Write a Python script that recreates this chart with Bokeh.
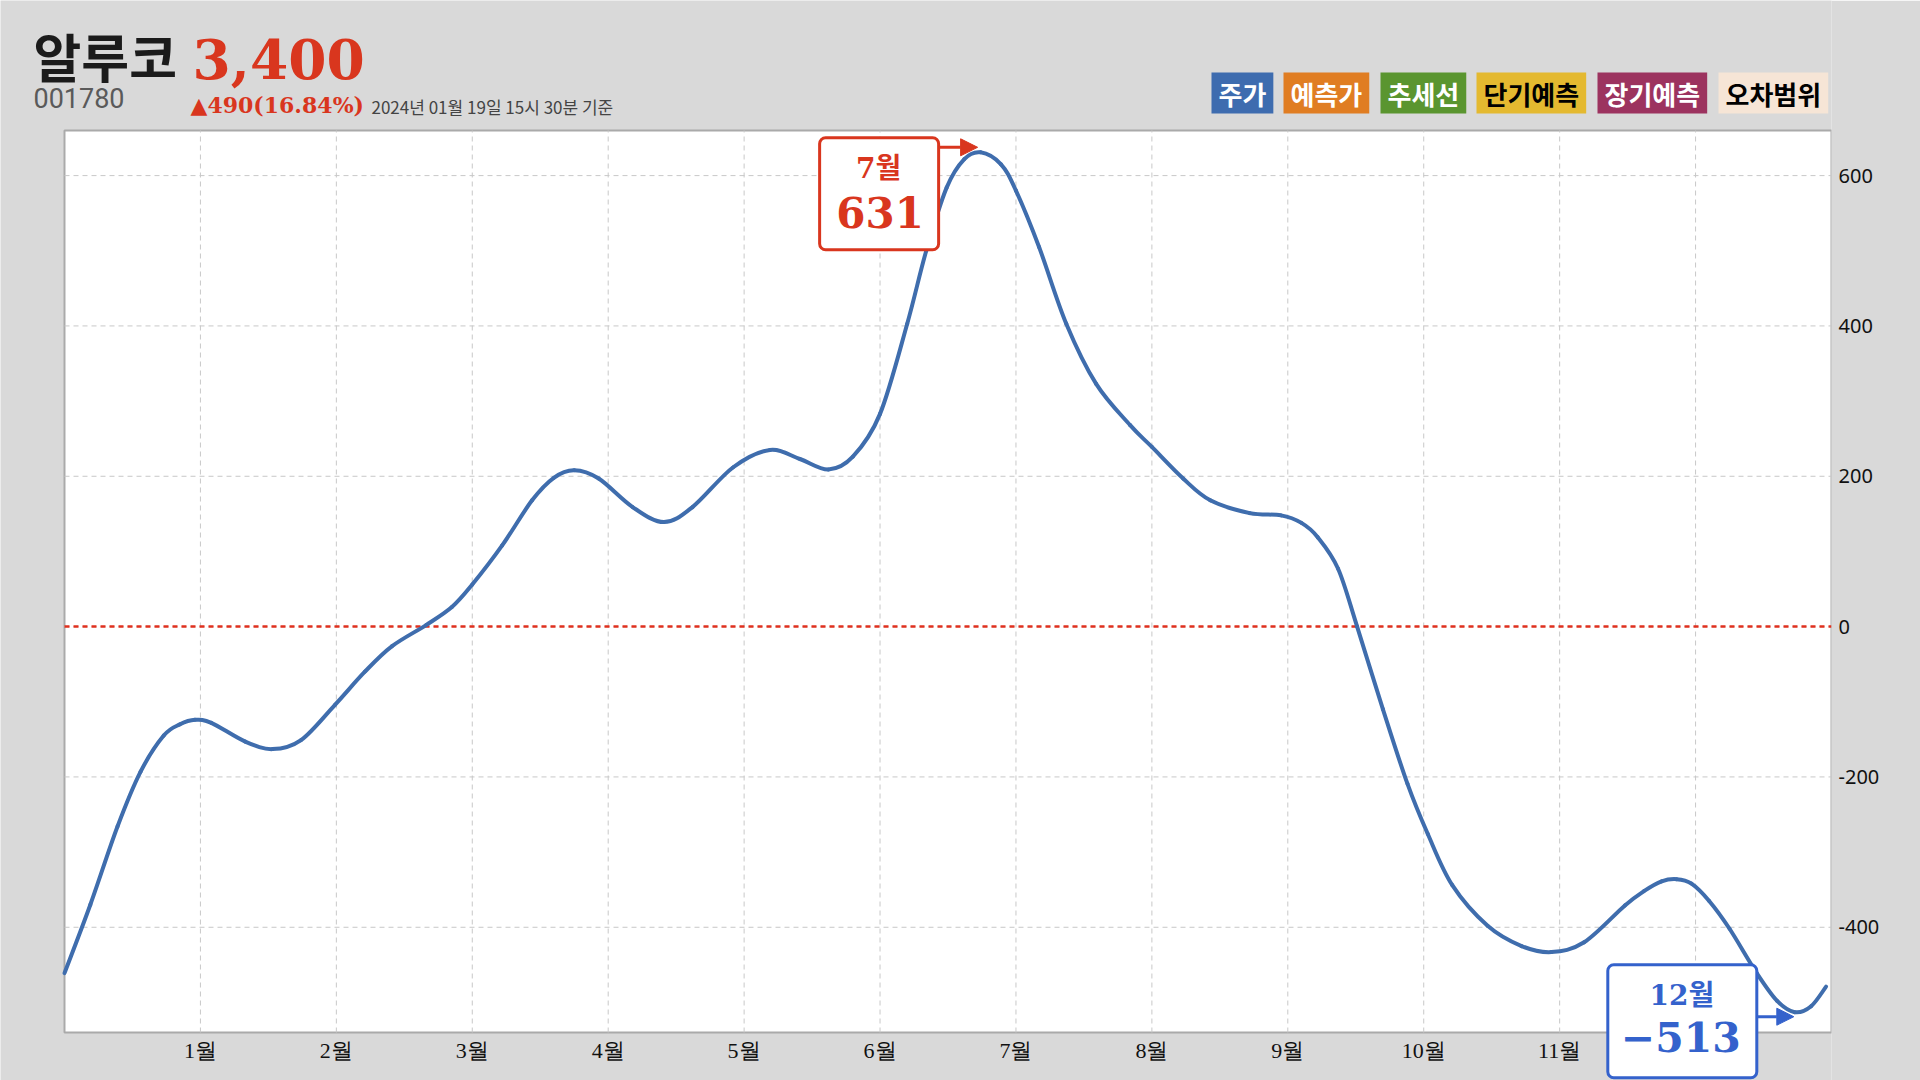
from bokeh.plotting import figure
from bokeh.models import (Range1d, FixedTicker, Label, BoxAnnotation, Arrow, NormalHead)
from bokeh.embed import file_html
from bokeh.resources import INLINE

# ---------------- data ----------------
stock_name = "알루코"
stock_code = "001780"
price_text = "3,400"
change_text = "▲490(16.84%)"
asof_text = "2024년 01월 19일 15시 30분 기준"

legend_labels = ["주가", "예측가", "추세선", "단기예측", "장기예측", "오차범위"]
legend_colors = ["#3e6caf", "#e07d22", "#5a952f", "#e4b930", "#9c335f", "#f6e5d6"]
legend_text_colors = ["white", "white", "white", "black", "white", "black"]

month_pos = [0.00, 0.19, 0.39, 0.56, 0.73, 0.85, 0.96, 1.08, 1.33, 1.53, 1.74, 1.99,
             2.21, 2.41, 2.66, 2.85, 3.00, 3.22, 3.44, 3.60, 3.75, 3.93, 4.18, 4.41,
             4.62, 4.92, 5.19, 5.41, 5.62, 5.80, 6.00, 6.20, 6.34, 6.49, 6.62, 6.74,
             6.89, 7.00, 7.17, 7.37, 7.59, 7.84, 8.00, 8.23, 8.43, 8.72, 8.95, 9.10,
             9.22, 9.37, 9.51, 9.70, 9.88, 10.03, 10.21, 10.47, 10.72, 10.94, 11.18,
             11.48, 11.62, 11.75, 11.86, 11.97, 12.10, 12.25, 12.45, 12.60, 12.73,
             12.85, 12.96]
diff_values = [-461, -370, -266, -193, -145, -130, -124, -128, -153, -163, -151, -104,
               -60, -26, 2, 26, 56, 108, 168, 198, 208, 197, 159, 139,
               159, 212, 235, 223, 209, 226, 283, 403, 500, 584, 622, 631,
               615, 580, 505, 403, 323, 268, 239, 197, 168, 151, 148, 138,
               119, 77, 0, -110, -209, -276, -344, -398, -425, -433, -420,
               -371, -352, -339, -336, -342, -365, -402, -461, -498, -513,
               -505, -479]

month_ticks = [1, 2, 3, 4, 5, 6, 7, 8, 9, 10, 11, 12]
month_labels = ["1월", "2월", "3월", "4월", "5월", "6월", "7월", "8월", "9월", "10월", "11월", "12월"]
y_ticks = [-400, -200, 0, 200, 400, 600]
y_tick_labels = ["-400", "-200", "0", "200", "400", "600"]

max_month_label = "7월"
min_month_label = "12월"

# ---------------- layout constants ----------------
W, H = 1920, 1080
AREA_L, AREA_R, AREA_T, AREA_B = 64, 1831, 130, 1032   # plot area on the canvas (px)
X0, X1 = 0, 13                                         # data extent of plot area
Y0, Y1 = -540, 660
PXX = (AREA_R - AREA_L) / (X1 - X0)
PXY = (AREA_B - AREA_T) / (Y1 - Y0)
BR = W - AREA_R

RED = "#d9361e"
BLUE = "#3462cc"
LINE = "#3f6dad"
GRID = "#c8c8c8"
SERIF = "DejaVu Serif, Noto Sans CJK KR"
KR = "Noto Sans CJK KR"

# frame covers the canvas left of the value axis, so texts outside the plot area are not clipped
xr = Range1d(X0 - AREA_L / PXX, X1)
yr = Range1d(Y0 - (H - AREA_B) / PXY, Y1 + AREA_T / PXY)

p = figure(width=W, height=H, output_backend="svg", toolbar_location=None,
           x_range=xr, y_range=yr, x_axis_location=None, y_axis_location="right",
           min_border_left=0, min_border_right=BR, min_border_top=0, min_border_bottom=0)
p.border_fill_color = "#d9d9d9"
p.background_fill_color = "#d9d9d9"
p.outline_line_color = None
p.grid.visible = False

# value axis (right)
p.yaxis.ticker = FixedTicker(ticks=y_ticks)
p.yaxis.major_label_overrides = {t: l for t, l in zip(y_ticks, y_tick_labels)}
p.yaxis.axis_line_color = None
p.yaxis.major_tick_line_color = None
p.yaxis.minor_tick_line_color = None
p.yaxis.major_label_text_color = "#111111"
p.yaxis.major_label_text_font = "Noto Sans"
p.yaxis.major_label_text_font_size = "20px"
p.yaxis.major_label_standoff = 1

# white plot area with grey border
p.add_layout(BoxAnnotation(left=X0, right=X1, bottom=Y0, top=Y1, level="underlay",
                           fill_color="white", fill_alpha=1.0,
                           line_color="#aaaaaa", line_alpha=1.0, line_width=2))

# grid lines
p.segment(x0=month_ticks, x1=month_ticks, y0=[Y0] * len(month_ticks), y1=[Y1] * len(month_ticks),
          line_color=GRID, line_dash="5 4", line_width=1)
p.segment(x0=[X0] * len(y_ticks), x1=[X1] * len(y_ticks), y0=y_ticks, y1=y_ticks,
          line_color=GRID, line_dash="5 4", line_width=1)

# month labels
p.text(x=month_ticks, y=[Y0 - 5 / PXY] * len(month_ticks), text=month_labels,
       text_font=KR, text_font_size="22px", text_color="#111111",
       text_align="center", text_baseline="top")

# zero line
p.segment(x0=[X0], x1=[X1], y0=[0], y1=[0], line_color="#e0301e",
          line_dash="5 4", line_width=2.5)

# smooth curve (Catmull-Rom -> cubic Bezier segments)
n = len(month_pos)
x0s, y0s, x1s, y1s, cx0, cy0, cx1, cy1 = [], [], [], [], [], [], [], []
for i in range(n - 1):
    pa = max(i - 1, 0)
    pd = min(i + 2, n - 1)
    xa, ya = month_pos[pa], diff_values[pa]
    xb, yb = month_pos[i], diff_values[i]
    xc, yc = month_pos[i + 1], diff_values[i + 1]
    xd, yd = month_pos[pd], diff_values[pd]
    x0s.append(xb); y0s.append(yb); x1s.append(xc); y1s.append(yc)
    cx0.append(xb + (xc - xa) / 6); cy0.append(yb + (yc - ya) / 6)
    cx1.append(xc - (xd - xb) / 6); cy1.append(yc - (yd - yb) / 6)
p.bezier(x0=x0s, y0=y0s, x1=x1s, y1=y1s, cx0=cx0, cy0=cy0, cx1=cx1, cy1=cy1,
         line_color=LINE, line_width=4, line_cap="round")

# ---------------- header (screen units relative to frame) ----------------
def sy(Y):
    return H - Y

def header(X, Y, text, font, size, color, bold=True):
    p.add_layout(Label(x=X, y=sy(Y), x_units="screen", y_units="screen", text=text,
                       text_font=font, text_font_style="bold" if bold else "normal",
                       text_font_size=size, text_color=color,
                       text_align="left", text_baseline="middle"))

header(33, 55, stock_name, KR, "52px", "#1b1b1b")
header(192, 58, price_text, "DejaVu Serif", "55px", RED)
header(33, 97, stock_code, "Roboto", "27px", "#5a5a5a", bold=False)
header(190, 104, change_text, "DejaVu Serif", "22px", RED)
header(371, 106, asof_text, KR, "17px", "#444444", bold=False)

# legend chips
legend_left = [1211, 1283, 1380, 1476, 1597, 1718]
for X, lab, bg, fg in zip(legend_left, legend_labels, legend_colors, legend_text_colors):
    p.add_layout(Label(x=X, y=sy(92.5), x_units="screen", y_units="screen", text=lab,
                       text_font=KR, text_font_style="bold", text_font_size="26px",
                       text_color=fg, text_align="left", text_baseline="middle",
                       background_fill_color=bg,
                       padding=dict(left=7, right=7, top=2, bottom=2)))

# ---------------- max / min callouts ----------------
def callout(idx, color, box, t1, t1_off, t1_size, t2, t2_off, t2_size, arrow):
    xd, yd = month_pos[idx], diff_values[idx]
    l, r, t, b = box
    p.add_layout(BoxAnnotation(left=xd + l / PXX, right=xd + r / PXX,
                               top=yd - t / PXY, bottom=yd - b / PXY,
                               fill_color="white", fill_alpha=1.0,
                               line_color=color, line_alpha=1.0, line_width=3,
                               border_radius=6))
    p.add_layout(Label(x=xd, y=yd, x_offset=t1_off[0], y_offset=-t1_off[1], text=t1,
                       text_font=SERIF, text_font_style="bold", text_font_size=t1_size,
                       text_color=color, text_align="center", text_baseline="middle"))
    p.add_layout(Label(x=xd, y=yd, x_offset=t2_off[0], y_offset=-t2_off[1], text=t2,
                       text_font="DejaVu Serif", text_font_style="bold", text_font_size=t2_size,
                       text_color=color, text_align="center", text_baseline="middle"))
    (ax0, ay0), (ax1, ay1) = arrow
    p.add_layout(Arrow(end=NormalHead(size=17, fill_color=color, line_color=color, line_width=1),
                       x_start=xd + ax0 / PXX, y_start=yd - ay0 / PXY,
                       x_end=xd + ax1 / PXX, y_end=yd - ay1 / PXY,
                       line_color=color, line_width=3))

imax = diff_values.index(max(diff_values))
imin = diff_values.index(min(diff_values))

callout(imax, RED, (-161, -42, -14.5, 97.5),
        max_month_label, (-102, 16.5), "28px",
        str(diff_values[imax]), (-100.5, 60), "42px",
        ((-42, -5), (-3, -5)))
callout(imin, BLUE, (-187, -38, -47.5, 65.5),
        min_month_label, (-113, -16.5), "28px",
        "\u2212" + str(abs(diff_values[imin])), (-114, 25), "41px",
        ((-38, 4.5), (-1, 4.5)))

open("out.html", "w").write(file_html(p, INLINE))
